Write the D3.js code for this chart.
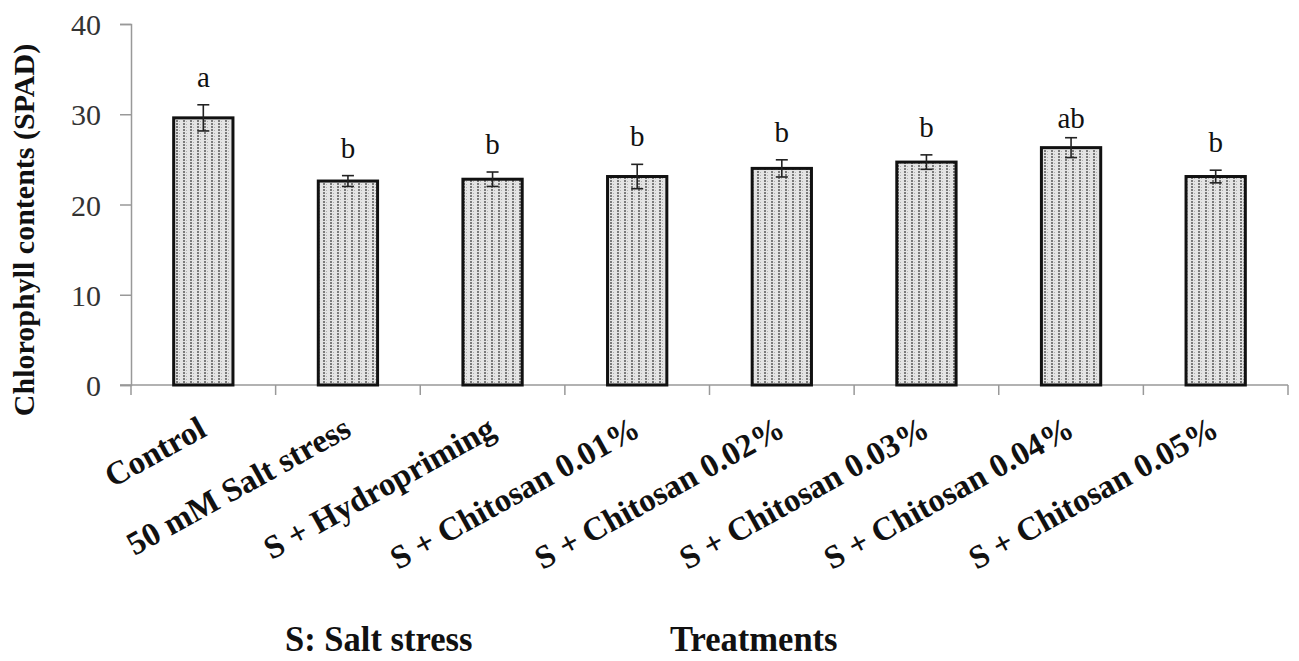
<!DOCTYPE html>
<html lang="en">
<head>
<meta charset="UTF-8">
<title>Chlorophyll contents</title>
<script src="https://d3js.org/d3.v7.min.js"></script>
<style>
  body { margin: 0; background: #fff; }
  text { font-family: "Liberation Serif", "Times New Roman", serif; }
</style>
</head>
<body>
<svg width="1299" height="661"></svg>
<script>
// data
const treatments = ["Control", "50 mM Salt stress", "S + Hydropriming", "S + Chitosan 0.01%",
                    "S + Chitosan 0.02%", "S + Chitosan 0.03%", "S + Chitosan 0.04%", "S + Chitosan 0.05%"];
const spad = [29.6, 22.6, 22.8, 23.1, 24.0, 24.7, 26.3, 23.1];
const spadErr = [1.45, 0.6, 0.8, 1.35, 0.95, 0.8, 1.1, 0.7];
const letters = ["a", "b", "b", "b", "b", "b", "ab", "b"];
const yTicks = [0, 10, 20, 30, 40];

const svg = d3.select("svg");

// dotted fill like the original bars
const defs = svg.append("defs");
const pat = defs.append("pattern")
  .attr("id", "dots")
  .attr("patternUnits", "userSpaceOnUse")
  .attr("width", 7).attr("height", 3);
pat.append("rect").attr("width", 7).attr("height", 3).attr("fill", "#e4e4e4");
pat.append("rect").attr("x", 1).attr("y", 0).attr("width", 2).attr("height", 2).attr("fill", "#7a7a7a");
pat.append("rect").attr("x", 4).attr("y", 1).attr("width", 1).attr("height", 1).attr("fill", "#b0b0b0");

const x = d3.scaleBand().domain(treatments).range([131, 1288]);
const y = d3.scaleLinear().domain([0, 40]).range([385, 24]);
const barW = x.bandwidth() * 0.41;

// y axis
const yAxis = svg.append("g")
  .attr("transform", "translate(131,0)")
  .call(d3.axisLeft(y).tickValues(yTicks).tickSize(11).tickPadding(19));
yAxis.select(".domain").attr("stroke", "#999").attr("stroke-width", 1.5);
yAxis.selectAll(".tick line").attr("stroke", "#999").attr("stroke-width", 1.5);
yAxis.selectAll(".tick text")
  .style("font-size", "30px").attr("fill", "#333")
  .attr("dy", "0.35em");

// x axis line and boundary ticks
const xg = svg.append("g");
xg.append("line")
  .attr("x1", 120).attr("x2", x.range()[1])
  .attr("y1", y(0)).attr("y2", y(0))
  .attr("stroke", "#999").attr("stroke-width", 1.5);
const bounds = treatments.map(t => x(t)).concat([x.range()[1]]);
xg.selectAll("line.xt")
  .data(bounds)
  .enter().append("line")
  .attr("class", "xt")
  .attr("x1", d => d).attr("x2", d => d)
  .attr("y1", y(0)).attr("y2", y(0) + 10)
  .attr("stroke", "#999").attr("stroke-width", 1.5);

// bars
svg.append("g")
  .selectAll("rect")
  .data(treatments)
  .enter().append("rect")
  .attr("x", d => x(d) + x.bandwidth() / 2 - barW / 2)
  .attr("width", barW)
  .attr("y", (d, i) => y(spad[i]))
  .attr("height", (d, i) => y(0) - y(spad[i]))
  .attr("fill", "url(#dots)")
  .attr("stroke", "#111")
  .attr("stroke-width", 3);

// error bars
const eb = svg.append("g").attr("stroke", "#222").attr("stroke-width", 1.6);
treatments.forEach((t, i) => {
  const cx = x(t) + x.bandwidth() / 2;
  const top = y(spad[i] + spadErr[i]), bot = y(spad[i] - spadErr[i]);
  eb.append("line").attr("x1", cx).attr("x2", cx).attr("y1", top).attr("y2", bot);
  eb.append("line").attr("x1", cx - 6).attr("x2", cx + 6).attr("y1", top).attr("y2", top);
  eb.append("line").attr("x1", cx - 6).attr("x2", cx + 6).attr("y1", bot).attr("y2", bot);
});

// significance letters
svg.append("g")
  .selectAll("text")
  .data(treatments)
  .enter().append("text")
  .attr("x", d => x(d) + x.bandwidth() / 2)
  .attr("y", (d, i) => y(spad[i] + spadErr[i]) - (letters[i] == "ab" ? 10 : 18))
  .attr("text-anchor", "middle")
  .style("font-size", "29px")
  .attr("fill", "#111")
  .text((d, i) => letters[i]);

// rotated category labels
svg.append("g")
  .selectAll("text")
  .data(treatments)
  .enter().append("text")
  .attr("transform", d => "translate(" + (x(d) + x.bandwidth() / 2 + 5) + ",435) rotate(-29)")
  .attr("text-anchor", "end")
  .style("font-size", "33px")
  .style("font-weight", "bold")
  .attr("fill", "#111")
  .text(d => d);

// y axis title
svg.append("text")
  .attr("transform", "translate(34,230) rotate(-90)")
  .attr("text-anchor", "middle")
  .style("font-size", "30px")
  .style("font-weight", "bold")
  .attr("fill", "#111")
  .text("Chlorophyll contents (SPAD)");

// notes below the chart
svg.append("text")
  .attr("transform", "translate(285,651) scale(1.08,1.12)")
  .style("font-size", "32px").style("font-weight", "bold").attr("fill", "#111")
  .text("S: Salt stress");
svg.append("text")
  .attr("transform", "translate(670,651) scale(1.08,1.12)")
  .style("font-size", "32px").style("font-weight", "bold").attr("fill", "#111")
  .text("Treatments");
</script>
</body>
</html>
